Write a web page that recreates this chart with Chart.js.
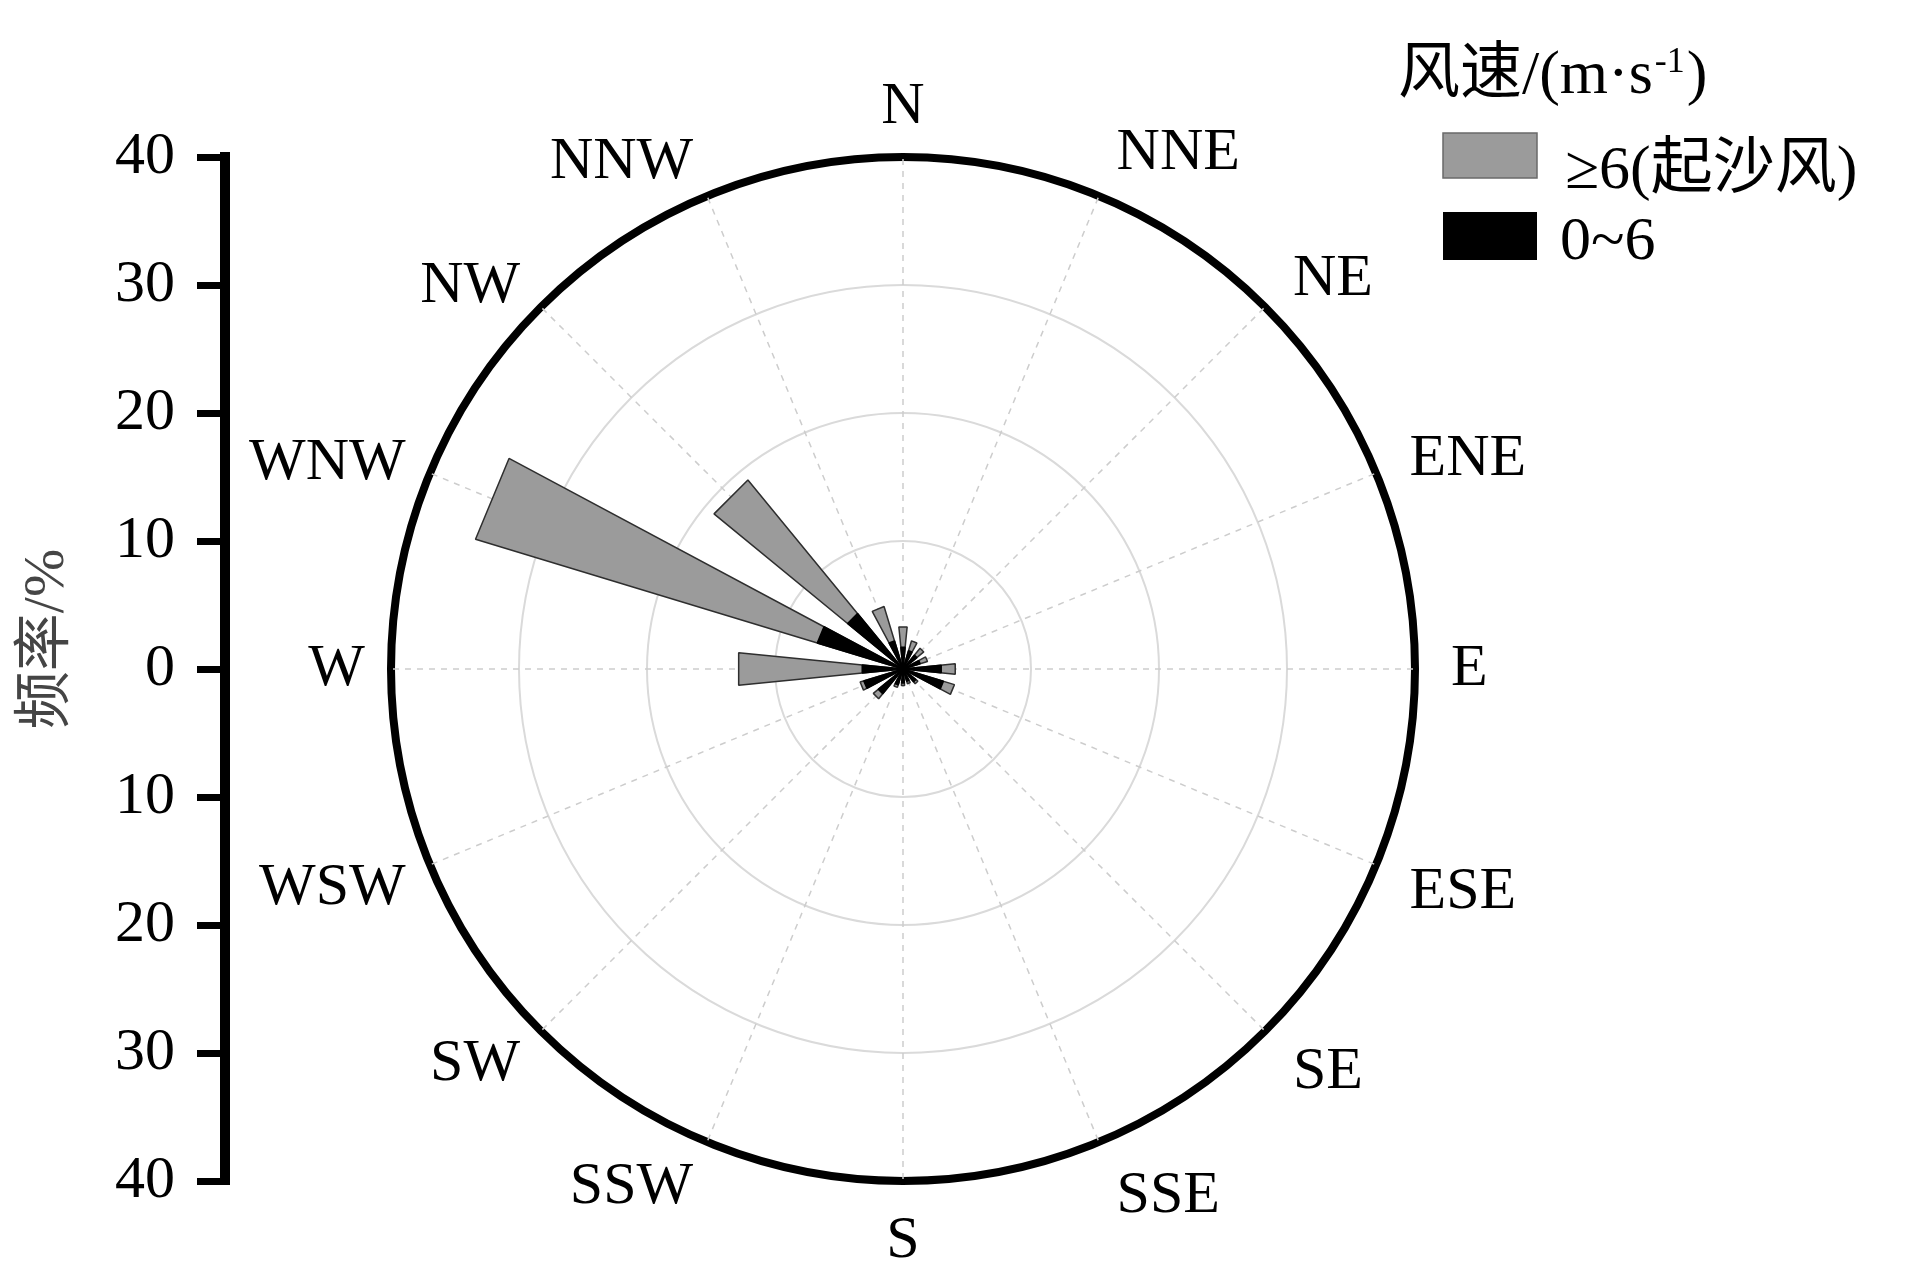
<!DOCTYPE html>
<html>
<head>
<meta charset="utf-8">
<script src="https://cdn.jsdelivr.net/npm/chart.js"></script>
<style>
  html, body { margin: 0; padding: 0; background: #fff; }
  #wrap { width: 1914px; height: 1283px; }
</style>
</head>
<body>
<div id="wrap"><canvas id="c" width="1914" height="1283"></canvas></div>
<script>
// ---- data ----
const directions = ['N','NNE','NE','ENE','E','ESE','SE','SSE','S','SSW','SW','WSW','W','WNW','NW','NNW'];
// frequency (%) of wind speed 0~6 m/s per direction
const speedLow  = [1.7, 1.5, 1.4, 1.4, 3.0, 3.3, 1.3, 1.0, 1.1, 1.3, 2.5, 3.2, 3.2, 7.0, 5.6, 2.3];
// frequency (%) of wind speed >= 6 m/s (sand-driving wind) per direction
const speedHigh = [1.6, 0.8, 0.7, 0.6, 1.1, 0.9, 0.2, 0.2, 0.2, 0.2, 0.5, 0.3, 9.7, 27.9, 13.5, 2.8];
const axisMin = -40, axisMax = 40, axisStep = 10;
const seriesNames = ['≥6(起沙风)', '0~6'];
const legendTitle = ['风速/(m·s', '-1', ')'];
const yTitle = '频率/%';

// ---- build polar-area tables (bars half a sector wide, gaps between) ----
const sectorDeg = 360 / directions.length;
const barDeg = sectorDeg / 2;
const arcAngles = [360 - barDeg / 2];
const lowData = [0];
const totalData = [0];
directions.forEach((d, i) => {
  if (i > 0) { arcAngles.push(sectorDeg - barDeg); lowData.push(0); totalData.push(0); }
  arcAngles.push(barDeg);
  lowData.push(speedLow[i]);
  totalData.push(speedLow[i] + speedHigh[i]);
});

const SERIF = '"Liberation Serif", "Times New Roman", "Noto Sans CJK SC", serif';

const decorPlugin = {
  id: 'decor',
  afterDraw(chart) {
    const ctx = chart.ctx;
    const r = chart.scales.r;
    ctx.save();
    // direction labels
    ctx.fillStyle = '#000';
    ctx.font = '60px ' + SERIF;
    ctx.textBaseline = 'middle';
    const labels = chart.data.labels;
    labels.forEach((lab, i) => {
      const deg = i * sectorDeg;
      const rad = deg * Math.PI / 180;
      const extra = 14 * Math.pow(Math.abs(Math.cos(rad)), 4);
      const leftSide = deg > 180 && deg < 360;
      const p = r.getPointPosition(i, r.drawingArea + (leftSide ? 26 : 36) + extra);
      let dy = 0;
      if (deg > 90 && deg < 270) dy = 10 + 4 * Math.abs(Math.sin(rad));
      ctx.textAlign = (deg === 0 || deg === 180) ? 'center' : (deg < 180 ? 'left' : 'right');
      ctx.fillText(lab, p.x, p.y + dy);
    });
    // y axis title
    ctx.save();
    ctx.translate(48, 639);
    ctx.rotate(-Math.PI / 2);
    ctx.textAlign = 'center';
    ctx.textBaseline = 'middle';
    ctx.fillStyle = '#454545';
    ctx.font = '58px ' + SERIF;
    ctx.fillText(yTitle, 0, 0);
    ctx.restore();
    // legend title
    ctx.textAlign = 'left';
    ctx.textBaseline = 'alphabetic';
    ctx.fillStyle = '#000';
    ctx.font = '62px ' + SERIF;
    let x = 1398;
    ctx.fillText(legendTitle[0], x, 93);
    x += ctx.measureText(legendTitle[0]).width + 2;
    ctx.font = '36px ' + SERIF;
    ctx.fillText(legendTitle[1], x, 72);
    x += ctx.measureText(legendTitle[1]).width + 2;
    ctx.font = '62px ' + SERIF;
    ctx.fillText(legendTitle[2], x, 93);
    // legend boxes
    ctx.fillStyle = '#9b9b9b';
    ctx.fillRect(1443, 133, 94, 45);
    ctx.strokeStyle = '#6a6a6a';
    ctx.lineWidth = 1.5;
    ctx.strokeRect(1443, 133, 94, 45);
    ctx.fillStyle = '#000';
    ctx.fillRect(1443, 212, 94, 48);
    ctx.font = '62px ' + SERIF;
    ctx.fillText(seriesNames[0], 1565, 188);
    ctx.fillText(seriesNames[1], 1560, 259);
    ctx.restore();
  }
};

new Chart(document.getElementById('c'), {
  type: 'polarArea',
  data: {
    labels: directions,
    datasets: [
      {
        label: seriesNames[1],
        data: lowData,
        backgroundColor: '#000',
        borderColor: '#000',
        borderWidth: c => (c.raw > 0 ? 1.5 : 0),
        angle: c => arcAngles[c.dataIndex],
        circular: false
      },
      {
        label: seriesNames[0],
        data: totalData,
        backgroundColor: '#9b9b9b',
        borderColor: '#2e2e2e',
        borderWidth: c => (c.raw > 0 ? 1.5 : 0),
        angle: c => arcAngles[c.dataIndex],
        circular: false
      }
    ]
  },
  options: {
    responsive: false,
    animation: false,
    events: [],
    layout: { padding: { top: 157, bottom: 102, left: 0, right: 333 } },
    plugins: { legend: { display: false }, tooltip: { enabled: false } },
    scales: {
      r: {
        type: 'radialLinear',
        min: 0, max: axisMax,
        startAngle: 0,
        ticks: { display: false, stepSize: axisStep },
        pointLabels: { display: false },
        grid: {
          circular: true,
          color: c => (c.tick && c.tick.value === axisMax ? '#000' : '#dadada'),
          lineWidth: c => (c.tick && c.tick.value === axisMax ? 8 : 2)
        },
        angleLines: { display: true, color: '#cdcdcd', lineWidth: 1.5, borderDash: [6, 6] }
      },
      y: {
        type: 'linear',
        position: 'left',
        min: axisMin, max: axisMax,
        afterFit: s => { s.width = 225; },
        ticks: {
          stepSize: axisStep,
          autoSkip: false,
          callback: v => Math.abs(v),
          color: '#000',
          padding: 22,
          font: { family: 'Liberation Serif', size: 60 }
        },
        grid: { drawOnChartArea: false, drawTicks: true, tickLength: 28, lineWidth: 7, tickWidth: 7, color: '#000', tickColor: '#000' },
        border: { display: true, width: 10, color: '#000' }
      }
    }
  },
  plugins: [decorPlugin]
});
</script>
</body>
</html>
